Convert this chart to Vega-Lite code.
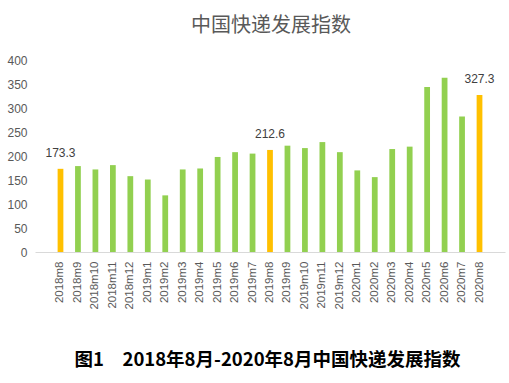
{
  "$schema": "https://vega.github.io/schema/vega-lite/v6.json",
  "width": 470,
  "height": 192,
  "autosize": "none",
  "padding": {"left": 35, "top": 60, "right": 4, "bottom": 131},
  "background": "white",
  "config": {"view": {"stroke": null}, "font": "Liberation Sans"},
  "title": {
    "text": "中国快递发展指数",
    "font": "Noto Sans CJK SC",
    "fontSize": 20,
    "fontWeight": "normal",
    "color": "#595959",
    "anchor": "middle",
    "offset": 18,
    "dx": 1
  },
  "data": {
    "values": [
      {"month": "2018m8", "value": 173.3, "hl": "y", "label": "173.3"},
      {"month": "2018m9", "value": 179, "hl": "n", "label": ""},
      {"month": "2018m10", "value": 172, "hl": "n", "label": ""},
      {"month": "2018m11", "value": 181, "hl": "n", "label": ""},
      {"month": "2018m12", "value": 158, "hl": "n", "label": ""},
      {"month": "2019m1", "value": 151, "hl": "n", "label": ""},
      {"month": "2019m2", "value": 118, "hl": "n", "label": ""},
      {"month": "2019m3", "value": 172, "hl": "n", "label": ""},
      {"month": "2019m4", "value": 174, "hl": "n", "label": ""},
      {"month": "2019m5", "value": 198, "hl": "n", "label": ""},
      {"month": "2019m6", "value": 208, "hl": "n", "label": ""},
      {"month": "2019m7", "value": 205, "hl": "n", "label": ""},
      {"month": "2019m8", "value": 212.6, "hl": "y", "label": "212.6"},
      {"month": "2019m9", "value": 221.5, "hl": "n", "label": ""},
      {"month": "2019m10", "value": 216.5, "hl": "n", "label": ""},
      {"month": "2019m11", "value": 229, "hl": "n", "label": ""},
      {"month": "2019m12", "value": 208, "hl": "n", "label": ""},
      {"month": "2020m1", "value": 170, "hl": "n", "label": ""},
      {"month": "2020m2", "value": 156, "hl": "n", "label": ""},
      {"month": "2020m3", "value": 214.5, "hl": "n", "label": ""},
      {"month": "2020m4", "value": 219.5, "hl": "n", "label": ""},
      {"month": "2020m5", "value": 344, "hl": "n", "label": ""},
      {"month": "2020m6", "value": 363, "hl": "n", "label": ""},
      {"month": "2020m7", "value": 282.5, "hl": "n", "label": ""},
      {"month": "2020m8", "value": 327.3, "hl": "y", "label": "327.3"}
    ]
  },
  "encoding": {
    "x": {
      "field": "month",
      "type": "nominal",
      "sort": null,
      "scale": {"paddingInner": 0, "paddingOuter": 0.96},
      "axis": {
        "title": "图1　2018年8月-2020年8月中国快递发展指数",
        "titleFont": "Noto Sans CJK SC",
        "titleFontSize": 18.5,
        "titleFontWeight": "bold",
        "titleColor": "#000000",
        "titleBaseline": "middle",
        "titleY": 107,
        "titleX": 232,
        "labelAngle": -90,
        "labelFontSize": 11.5,
        "labelColor": "#595959",
        "labelPadding": 9,
        "ticks": false,
        "domainColor": "#d9d9d9",
        "domainWidth": 1
      }
    },
    "y": {
      "field": "value",
      "type": "quantitative",
      "scale": {"domain": [0, 400]},
      "axis": {
        "title": null,
        "values": [0, 50, 100, 150, 200, 250, 300, 350, 400],
        "grid": false,
        "domain": false,
        "ticks": false,
        "labelFontSize": 12,
        "labelColor": "#595959",
        "labelPadding": 8
      }
    }
  },
  "layer": [
    {
      "mark": {"type": "bar", "width": {"band": 0.33}},
      "encoding": {
        "color": {
          "field": "hl",
          "type": "nominal",
          "scale": {"domain": ["y", "n"], "range": ["#FFC000", "#92D050"]},
          "legend": null
        }
      }
    },
    {
      "mark": {"type": "text", "baseline": "bottom", "dy": -9, "fontSize": 12, "color": "#404040"},
      "encoding": {"text": {"field": "label"}}
    }
  ]
}
